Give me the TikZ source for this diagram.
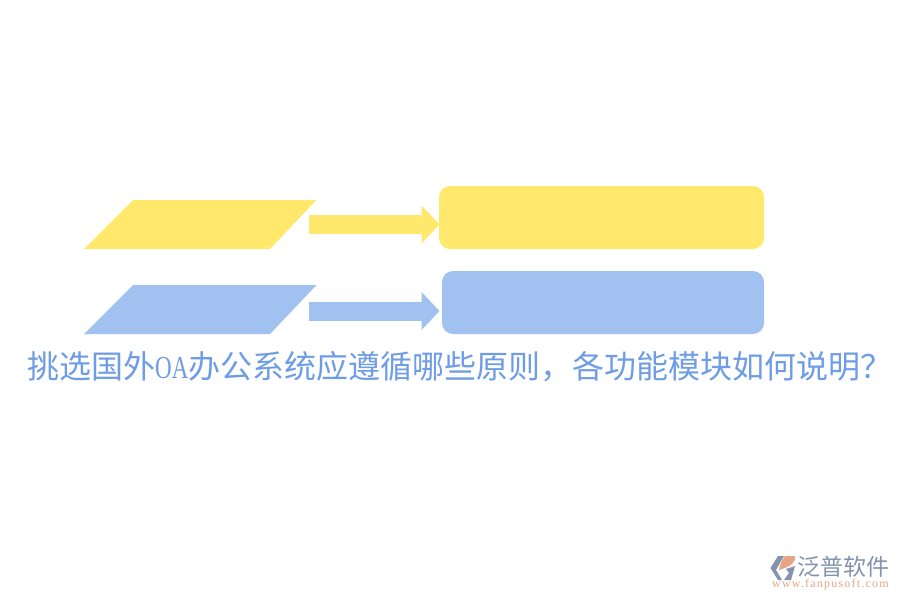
\documentclass[tikz,border=0pt]{standalone}
\usepackage{fontspec}
\setmainfont{Liberation Serif}
\newfontfamily\cjk{Noto Sans CJK SC}
\newfontfamily\urlfont[LetterSpace=10]{Liberation Serif}
\newfontfamily\oafont[FakeStretch=0.72]{Liberation Serif}
\usetikzlibrary{arrows.meta}
\definecolor{yel}{HTML}{FFE86B}
\definecolor{blu}{HTML}{A1C1F0}
\definecolor{ttl}{HTML}{6E9DE6}
\definecolor{lgray}{HTML}{8494AE}
\definecolor{lor}{HTML}{E8A585}
\tikzset{
  para/.style={fill=#1,draw=none},
  box/.style={fill=#1,draw=none,rounded corners=11pt},
  blockarrow/.style={draw=#1,line width=19pt,-{Triangle[length=18pt,width=37pt,fill=#1]}},
}
\begin{document}
\begin{tikzpicture}[x=1pt,y=-1pt]
\useasboundingbox (0,0) rectangle (900,600);
\fill[white] (0,0) rectangle (900,600);
\fill[para=yel] (84,249) -- (133,200) -- (316.5,200) -- (270,249) -- cycle;
\fill[para=blu] (84,334) -- (133,285) -- (316.5,285) -- (270,334) -- cycle;
\fill[box=yel] (439,186) rectangle (764,249);
\fill[box=blu] (442,271) rectangle (764,334);
\coordinate (ys) at (309,224.5);
\coordinate (ye) at (439.5,224.5);
\coordinate (bs) at (309,311);
\coordinate (be) at (439.5,311);
\draw[blockarrow=yel] (ys) -- (ye);
\draw[blockarrow=blu] (bs) -- (be);
\node[anchor=base west,inner sep=0pt,text=ttl,font=\fontsize{32}{32}\selectfont\cjk] (title) at (27,378)
  {挑选国外{\oafont OA}办公系统应遵循哪些原则，各功能模块如何说明？};
% logo icon
\fill[lgray] (778,556) -- (784,556) -- (776,570) -- (782,580) -- (778,580) -- (770.5,568) -- cycle;
\fill[lor] (785,556) -- (795,556) .. controls (796,562) and (792,566) .. (779,570) .. controls (780,564) and (782,560) .. (785,556) -- cycle;
\fill[lgray] (786,569) -- (795,566) -- (791,580) -- (784,580) -- (789,573) -- cycle;
\node[anchor=base west,inner sep=0pt,text=lgray,font=\fontsize{23}{24}\selectfont\cjk] (brand) at (797,575) {泛普软件};
\node[anchor=base west,inner sep=0pt,text=lor,font=\fontsize{12}{12}\selectfont\urlfont] (url) at (772,587) {www.fanpusoft.com};
\end{tikzpicture}
\end{document}
